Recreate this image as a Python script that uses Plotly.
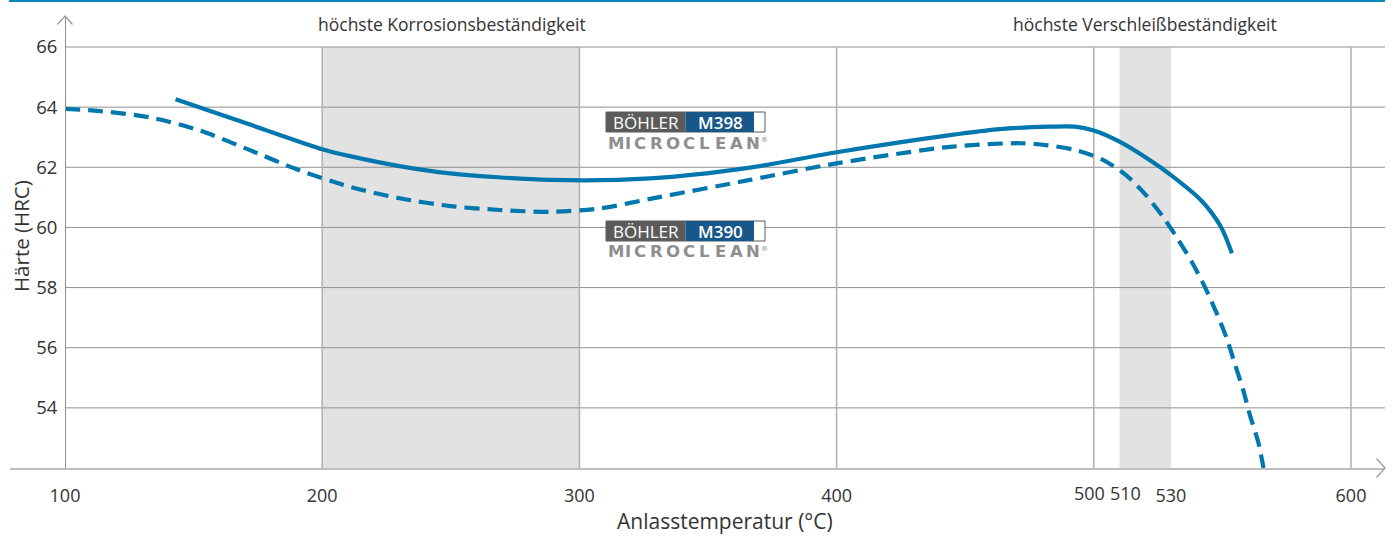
import plotly.graph_objects as go

# ---- data ----
m398_temp = [143, 171.9, 200, 210.8, 230, 249.7, 288.6, 327.5, 366.3, 400, 444.1, 463.5, 483, 492.7, 500, 510, 521.7, 530, 541.6, 549.4, 553.7]
m398_hrc = [64.26, 63.42, 62.6, 62.37, 62.04, 61.8, 61.58, 61.63, 61.99, 62.5, 63.07, 63.27, 63.35, 63.35, 63.22, 62.85, 62.24, 61.74, 60.91, 60.02, 59.14]

m390_temp = [100, 113.6, 133, 152.5, 171.9, 191.4, 210.8, 230.2, 249.7, 269.1, 288.6, 308, 327.5, 366.3, 400, 444.1,
             471, 482, 493, 503, 512.5, 520.2, 527, 532.9, 538.4, 543.3, 547.8, 551.7, 555, 558.1, 560.7, 563.9, 566]
m390_hrc = [63.94, 63.87, 63.66, 63.22, 62.57, 61.89, 61.35, 60.97, 60.71, 60.58, 60.52, 60.63, 60.95, 61.58, 62.13, 62.68,
            62.80, 62.73, 62.57, 62.27, 61.74, 61.08, 60.34, 59.58, 58.81, 58.0, 57.14, 56.31, 55.42, 54.59, 53.76, 52.87, 52.0]

x_tickvals = [100, 200, 300, 400, 500, 510, 530, 600]
x_ticktext = ["100", "200", "300", "400", "", "", "530", "600"]
close_ticks = [(500, "500", -4), (510, "510", 6)]  # labels drawn separately (value, text, nudge px)
y_tickvals = [54, 56, 58, 60, 62, 64, 66]
x_gridvals = [200, 300, 400, 500, 600]
bands = [(200, 300), (510, 530)]
band_labels = [(250.3, "höchste Korrosionsbeständigkeit"), (520, "höchste Verschleißbeständigkeit")]

# ---- geometry helpers (pixel -> paper) ----
L, R, T, B = 10, 1385, 16, 468
W, H = R - L, B - T
def pxx(p):
    return (p - L) / W
def pxy(p):
    return (B - p) / H

X_RANGE = [100 - 55 / 2.572, 600 + 34 / 2.572]
Y_RANGE = [52, 66 + 31 / 30.07]

BLUE = "#0077ad"
FONT = "Open Sans"
TXT = "#333333"

fig = go.Figure()
fig.add_trace(go.Scatter(x=m398_temp, y=m398_hrc, mode="lines", name="M398",
                         line=dict(color=BLUE, width=4.2, shape="spline", smoothing=0.8)))
fig.add_trace(go.Scatter(x=m390_temp, y=m390_hrc, mode="lines", name="M390",
                         line=dict(color=BLUE, width=4.2, dash="15px,8px", shape="spline", smoothing=0.8)))

shapes = []
for a, b in bands:
    shapes.append(dict(type="rect", xref="x", yref="y", x0=a, x1=b, y0=52, y1=66,
                       fillcolor="#e2e2e2", line=dict(width=0), layer="below"))
for yv in y_tickvals:
    shapes.append(dict(type="line", xref="x", yref="y", x0=100, x1=X_RANGE[1], y0=yv, y1=yv,
                       line=dict(color="#909090", width=1), layer="below"))
for xv in x_gridvals:
    shapes.append(dict(type="line", xref="x", yref="y", x0=xv, x1=xv, y0=52, y1=66,
                       line=dict(color="#b0b0b0", width=1.5), layer="below"))
# axis arrows
shapes.append(dict(type="path", xref="paper", yref="paper",
                   path=f"M {pxx(57.5)} {pxy(24.5)} L {pxx(65)} {pxy(16)} L {pxx(72.5)} {pxy(24.5)}",
                   line=dict(color="#999999", width=1.2)))
shapes.append(dict(type="path", xref="paper", yref="paper",
                   path=f"M {pxx(1376.5)} {pxy(458.5)} L {pxx(1385)} {pxy(468)} L {pxx(1376.5)} {pxy(477.5)}",
                   line=dict(color="#999999", width=1.2)))
# top blue rule
shapes.append(dict(type="line", xref="paper", yref="paper", x0=pxx(9), x1=pxx(1385), y0=pxy(1), y1=pxy(1),
                   line=dict(color="#0a86bb", width=2)))

annotations = []
for xv, txt, nudge in close_ticks:
    annotations.append(dict(x=xv, y=pxy(493), xref="x", yref="paper", text=txt, showarrow=False, xshift=nudge,
                            font=dict(family=FONT, size=18, color=TXT), xanchor="center", yanchor="middle"))
for xc, txt in band_labels:
    annotations.append(dict(x=xc, y=pxy(24), xref="x", yref="paper", text=txt, showarrow=False,
                            font=dict(family=FONT, size=17.5, color=TXT), xanchor="center", yanchor="middle"))
annotations.append(dict(x=pxx(725), y=pxy(521), xref="paper", yref="paper", text="Anlasstemperatur (°C)",
                        showarrow=False, font=dict(family=FONT, size=21, color=TXT), xanchor="center", yanchor="middle"))
annotations.append(dict(x=pxx(21), y=pxy(236), xref="paper", yref="paper", text="Härte (HRC)", textangle=-90,
                        showarrow=False, font=dict(family=FONT, size=20.5, color=TXT), xanchor="center", yanchor="middle"))

# logos
def logo(grade, top):
    bot = top + 20
    shapes.append(dict(type="rect", xref="paper", yref="paper", x0=pxx(606), x1=pxx(765), y0=pxy(bot), y1=pxy(top),
                       fillcolor="white", line=dict(color="#5a5a5a", width=1)))
    shapes.append(dict(type="rect", xref="paper", yref="paper", x0=pxx(606), x1=pxx(685.5), y0=pxy(bot), y1=pxy(top),
                       fillcolor="#5b5b5b", line=dict(width=0)))
    shapes.append(dict(type="rect", xref="paper", yref="paper", x0=pxx(685.5), x1=pxx(754), y0=pxy(bot), y1=pxy(top),
                       fillcolor="#17578a", line=dict(width=0)))
    annotations.append(dict(x=pxx(645.5), y=pxy(top + 10.5), xref="paper", yref="paper", text="BÖHLER",
                            showarrow=False, font=dict(family=FONT, size=17, color="white"),
                            xanchor="center", yanchor="middle"))
    annotations.append(dict(x=pxx(720), y=pxy(top + 10.5), xref="paper", yref="paper", text=grade,
                            showarrow=False, font=dict(family=FONT, size=17, color="white", weight=600),
                            xanchor="center", yanchor="middle"))
    letters = "MICROCLEAN"
    widths = [17, 4, 14, 14, 14, 14, 13, 13, 14, 14]
    gap = 2.4
    x = 607
    yc = top + 31
    for ch, w in zip(letters, widths):
        annotations.append(dict(x=pxx(x + w / 2), y=pxy(yc), xref="paper", yref="paper", text=ch,
                                showarrow=False, font=dict(family="DejaVu Sans", size=16.5, color="#8e8e8e", weight="bold"),
                                xanchor="center", yanchor="middle"))
        x += w + gap
    annotations.append(dict(x=pxx(x + 3), y=pxy(yc - 3), xref="paper", yref="paper", text="®",
                            showarrow=False, font=dict(family="DejaVu Sans", size=7, color="#8e8e8e"),
                            xanchor="center", yanchor="middle"))

logo("M398", 112)
logo("M390", 221)

fig.update_layout(
    width=1394, height=536,
    margin=dict(l=L, r=1394 - R, t=T, b=536 - B),
    paper_bgcolor="white", plot_bgcolor="white",
    showlegend=False,
    shapes=shapes, annotations=annotations,
    xaxis=dict(range=X_RANGE, tickmode="array", tickvals=x_tickvals, ticktext=x_ticktext, tickangle=0,
               showgrid=False, zeroline=False, showline=True, linecolor="#bdbdbd", linewidth=2,
               ticks="", ticklabelstandoff=10, tickfont=dict(family=FONT, size=18, color=TXT)),
    yaxis=dict(range=Y_RANGE, tickmode="array", tickvals=y_tickvals, anchor="free", position=pxx(65),
               showgrid=False, zeroline=False, showline=True, linecolor="#8f8f8f", linewidth=1,
               ticks="", ticklabelstandoff=4, tickfont=dict(family=FONT, size=18.5, color=TXT)),
)

fig.write_html("out.html", config={"displayModeBar": False},
               post_script="document.body.style.margin='0px';document.body.style.overflow='hidden';")
